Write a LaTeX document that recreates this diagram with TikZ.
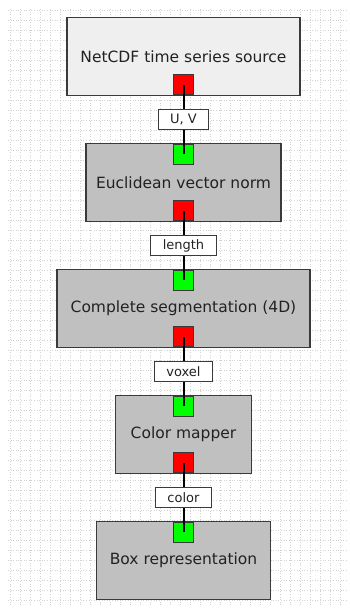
\documentclass[tikz,border=0pt]{standalone}
\usepackage{fontspec}
\setmainfont{DejaVu Sans}
\usetikzlibrary{positioning,calc}

\definecolor{boxgray}{HTML}{C0C0C0}
\definecolor{srcgray}{HTML}{EFEFEF}
\definecolor{edgegray}{HTML}{3A3A3A}
\definecolor{textgray}{HTML}{222222}

\begin{document}
\begin{tikzpicture}[
    x=1pt, y=-1pt,
    module/.style={
        draw=edgegray,
        fill=boxgray,
        line width=1.2pt,
        outer sep=0pt,
        minimum height=77.5pt,
        text=textgray,
        font=\fontsize{15.5}{18}\selectfont
    },
    inport/.style={
        draw=edgegray,
        fill=green,
        line width=1pt,
        minimum size=20pt,
        inner sep=0pt,
        anchor=north
    },
    outport/.style={
        draw=edgegray,
        fill=red,
        line width=1pt,
        minimum size=20pt,
        inner sep=0pt,
        anchor=south
    },
    portlabel/.style={
        draw=edgegray,
        fill=white,
        line width=1pt,
        minimum height=19.5pt,
        inner xsep=12pt,
        inner ysep=0pt,
        text=textgray,
        font=\fontsize{13}{15}\selectfont
    },
    link/.style={line width=2pt, black}
]

% background
\fill[white] (0,0) rectangle (350,608);
\useasboundingbox (0,0) rectangle (350,608);
\draw[gray!35, dotted, line width=0.6pt, step=10pt] (8,8) grid (348,605);

% modules
\node[module, fill=srcgray, minimum width=233pt] (src) at (183.5,56.5)
{NetCDF time series source};

\node[module, minimum width=195pt, below=48.5pt of src] (norm)
{Euclidean vector norm};

\node[module, minimum width=253pt, below=48.5pt of norm] (seg)
{Complete segmentation (4D)};

\node[module, minimum width=136pt, below=48.5pt of seg] (cmap)
{Color mapper};

\node[module, minimum width=174pt, below=48.5pt of cmap] (boxrep)
{Box representation};

% ports
\node[outport] (src-out) at (src.south) {};
\node[inport] (norm-in) at (norm.north) {};
\node[outport] (norm-out) at (norm.south) {};
\node[inport] (seg-in) at (seg.north) {};
\node[outport] (seg-out) at (seg.south) {};
\node[inport] (cmap-in) at (cmap.north) {};
\node[outport] (cmap-out) at (cmap.south) {};
\node[inport] (boxrep-in) at (boxrep.north) {};

% connections
\draw[link] (src-out.center) -- (norm-in.center);
\draw[link] (norm-out.center) -- (seg-in.center);
\draw[link] (seg-out.center) -- (cmap-in.center);
\draw[link] (cmap-out.center) -- (boxrep-in.center);

% labels
\node[portlabel] (uv) at ($(src.south)!0.5!(norm.north)$) {U, V};
\node[portlabel] (len) at ($(norm.south)!0.5!(seg.north)$) {length};
\node[portlabel] (vox) at ($(seg.south)!0.5!(cmap.north)$) {voxel};
\node[portlabel] (col) at ($(cmap.south)!0.5!(boxrep.north)$) {color};

\end{tikzpicture}
\end{document}
